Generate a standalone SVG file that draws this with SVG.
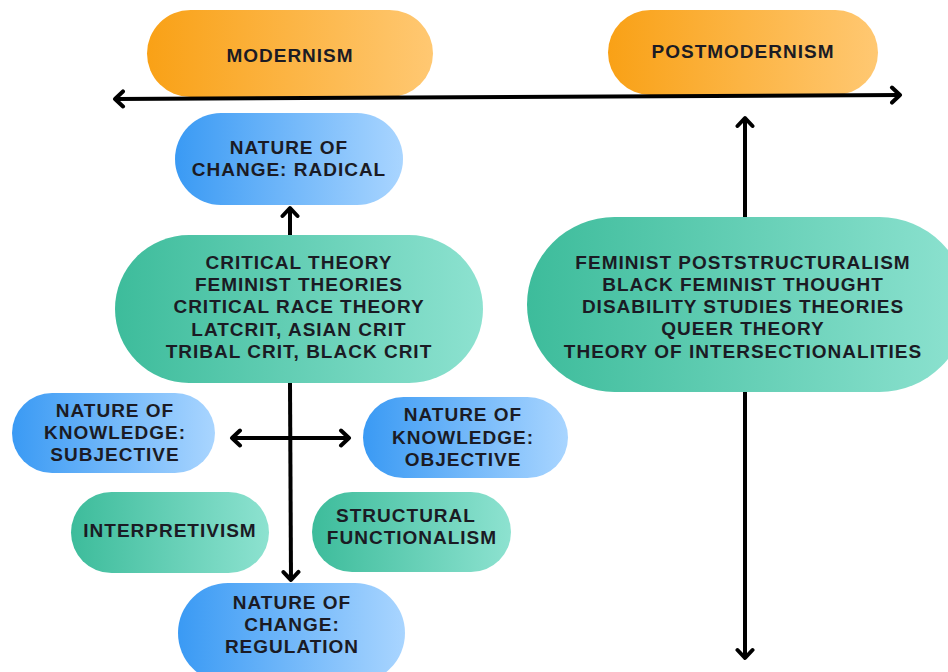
<svg xmlns="http://www.w3.org/2000/svg" width="948" height="672" viewBox="0 0 948 672">
  <defs>
    <linearGradient id="gOrange" x1="0" y1="0" x2="1" y2="0">
      <stop offset="0" stop-color="#F9A116"/>
      <stop offset="1" stop-color="#FFC872"/>
    </linearGradient>
    <linearGradient id="gBlue" x1="0" y1="0" x2="1" y2="0">
      <stop offset="0" stop-color="#3A9AF4"/>
      <stop offset="1" stop-color="#A9D5FF"/>
    </linearGradient>
    <linearGradient id="gGreen" x1="0" y1="0" x2="1" y2="0">
      <stop offset="0" stop-color="#3DBC9B"/>
      <stop offset="1" stop-color="#8DE2D0"/>
    </linearGradient>
    <marker id="head" markerUnits="userSpaceOnUse" viewBox="0 0 20 20" markerWidth="20" markerHeight="20" refX="16" refY="10" orient="auto-start-reverse">
      <path d="M8,2.5 L16,10 L8,17.5" fill="none" stroke="#000" stroke-width="4" stroke-linecap="round" stroke-linejoin="round"/>
    </marker>
    <style>
      .lbl { font-family: "Liberation Sans", Arial, sans-serif; font-weight: bold; font-size: 19px; fill: #1B1B24; text-anchor: middle; letter-spacing: 1px; }
      .orange { fill: url(#gOrange); }
      .blue { fill: url(#gBlue); }
      .green { fill: url(#gGreen); }
      .conn { stroke: #000; stroke-width: 4; fill: none; }
    </style>
  </defs>

  <rect width="948" height="672" fill="#FFFFFF"/>

  <!-- nodes -->
  <g id="modernism">
    <rect class="orange" x="147" y="10" width="286" height="87" rx="43.5"/>
    <text class="lbl" x="290" y="62">MODERNISM</text>
  </g>
  <g id="postmodernism">
    <rect class="orange" x="608" y="10" width="270" height="85" rx="42.5"/>
    <text class="lbl" x="743" y="58">POSTMODERNISM</text>
  </g>
  <g id="change-radical">
    <rect class="blue" x="175" y="113" width="228" height="92" rx="46"/>
    <text class="lbl" x="289" y="154">NATURE OF</text>
    <text class="lbl" x="289" y="176">CHANGE: RADICAL</text>
  </g>
  <g id="critical-theories">
    <rect class="green" x="115" y="235" width="368" height="148" rx="74"/>
    <text class="lbl" x="299" y="269">CRITICAL THEORY</text>
    <text class="lbl" x="299" y="291">FEMINIST THEORIES</text>
    <text class="lbl" x="299" y="313">CRITICAL RACE THEORY</text>
    <text class="lbl" x="299" y="336">LATCRIT, ASIAN CRIT</text>
    <text class="lbl" x="299" y="358">TRIBAL CRIT, BLACK CRIT</text>
  </g>
  <g id="postmodern-theories">
    <rect class="green" x="527" y="217" width="440" height="175" rx="87.5"/>
    <text class="lbl" x="743" y="269">FEMINIST POSTSTRUCTURALISM</text>
    <text class="lbl" x="743" y="291">BLACK FEMINIST THOUGHT</text>
    <text class="lbl" x="743" y="313">DISABILITY STUDIES THEORIES</text>
    <text class="lbl" x="743" y="335">QUEER THEORY</text>
    <text class="lbl" x="743" y="358">THEORY OF INTERSECTIONALITIES</text>
  </g>
  <g id="knowledge-subjective">
    <rect class="blue" x="12" y="393" width="203" height="80" rx="40"/>
    <text class="lbl" x="115" y="417">NATURE OF</text>
    <text class="lbl" x="115" y="439">KNOWLEDGE:</text>
    <text class="lbl" x="115" y="461">SUBJECTIVE</text>
  </g>
  <g id="knowledge-objective">
    <rect class="blue" x="363" y="397" width="205" height="81" rx="40.5"/>
    <text class="lbl" x="463" y="421">NATURE OF</text>
    <text class="lbl" x="463" y="444">KNOWLEDGE:</text>
    <text class="lbl" x="463" y="466">OBJECTIVE</text>
  </g>
  <g id="interpretivism">
    <rect class="green" x="71" y="492" width="198" height="81" rx="40.5"/>
    <text class="lbl" x="170" y="537">INTERPRETIVISM</text>
  </g>
  <g id="structural-functionalism">
    <rect class="green" x="312" y="492" width="199" height="80" rx="40"/>
    <text class="lbl" x="406" y="522">STRUCTURAL</text>
    <text class="lbl" x="412" y="544">FUNCTIONALISM</text>
  </g>
  <g id="change-regulation">
    <rect class="blue" x="178" y="583" width="227" height="100" rx="50"/>
    <text class="lbl" x="292" y="609">NATURE OF</text>
    <text class="lbl" x="292" y="631">CHANGE:</text>
    <text class="lbl" x="292" y="653">REGULATION</text>
  </g>

  <!-- connectors -->
  <g id="connectors">
    <line class="conn" x1="115" y1="99" x2="900" y2="95" marker-start="url(#head)" marker-end="url(#head)"/>
    <line class="conn" x1="290" y1="235" x2="290" y2="208" marker-end="url(#head)"/>
    <line class="conn" x1="290" y1="383" x2="291" y2="580" marker-end="url(#head)"/>
    <line class="conn" x1="232" y1="438" x2="349" y2="438" marker-start="url(#head)" marker-end="url(#head)"/>
    <line class="conn" x1="745" y1="217" x2="745" y2="118" marker-end="url(#head)"/>
    <line class="conn" x1="745" y1="392" x2="745" y2="658" marker-end="url(#head)"/>
  </g>
</svg>
